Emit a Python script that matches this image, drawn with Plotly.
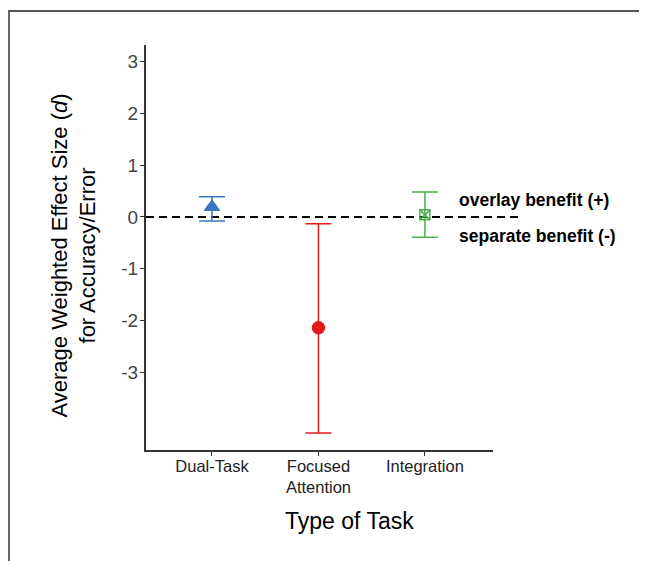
import plotly.graph_objects as go

categories = ["Dual-Task", "Focused<br>Attention", "Integration"]
effect = [0.19, -2.14, 0.04]
ci_upper = [0.39, -0.13, 0.48]
ci_lower = [-0.08, -4.17, -0.39]
colors = ["#3b78c0", "#e31a1c", "#4daf4a"]
symbols = ["triangle-up", "circle", "square-x-open"]
sizes = [13, 12, 10]
y_ticks = [-3, -2, -1, 0, 1, 2, 3]
y_ticktext = ["-3", "-2", "-1", "0", "1", "2", "3"]

# page offset (body margin) is 8px
OFF = 8
W, H = 647 - OFF, 561 - OFF
L, T = 146 - OFF, 45 - OFF
pw, ph = 347, 405
R, B = W - L - pw, H - T - ph


def px(page_x):
    return (page_x - OFF - L) / pw


def py(page_y):
    return (T + ph - (page_y - OFF)) / ph


fig = go.Figure()
for i, cat in enumerate(categories):
    fig.add_trace(go.Scatter(
        x=[i], y=[effect[i]], mode="markers",
        marker=dict(color=colors[i], symbol=symbols[i], size=sizes[i],
                    line=dict(color=colors[i], width=1.5)),
        error_y=dict(type="data", symmetric=False,
                     array=[ci_upper[i] - effect[i]],
                     arrayminus=[effect[i] - ci_lower[i]],
                     color=colors[i], thickness=1.5, width=13),
        showlegend=False,
    ))

fig.add_shape(type="line", xref="paper", yref="y", x0=0, x1=px(523),
              y0=0, y1=0, line=dict(color="black", width=2, dash="8px,5px"), layer="below")

# outer border
fig.add_shape(type="rect", xref="paper", yref="paper",
              x0=px(9), x1=px(700), y0=py(620), y1=py(11),
              line=dict(color="#555555", width=1.8))

fig.add_annotation(xref="paper", yref="y", x=px(457), y=0.33, text="<b>overlay benefit (+)</b>",
                   showarrow=False, xanchor="left", font=dict(size=17.5, color="black"))
fig.add_annotation(xref="paper", yref="y", x=px(457), y=-0.37, text="<b>separate benefit (-)</b>",
                   showarrow=False, xanchor="left", font=dict(size=17.5, color="black"))
fig.add_annotation(xref="paper", yref="paper", x=px(349), y=py(521), yanchor="middle",
                   text="Type of Task", showarrow=False, font=dict(size=23, color="black"))
fig.add_annotation(xref="paper", yref="paper", x=px(73.5), y=py(256), xanchor="center",
                   yanchor="middle", textangle=-90,
                   text="Average Weighted Effect Size (<i>d</i>)<br>for Accuracy/Error",
                   showarrow=False, font=dict(size=22, color="black"))

fig.update_layout(
    width=W, height=H,
    margin=dict(l=L, r=R, t=T, b=B, autoexpand=False),
    paper_bgcolor="white", plot_bgcolor="white",
    font=dict(family="Liberation Sans, Arial, sans-serif", color="#333333"),
    xaxis=dict(tickmode="array", tickvals=[0, 1, 2], ticktext=categories,
               range=[-0.62, 2.64], showgrid=False, zeroline=False,
               showline=True, linecolor="#333333", linewidth=2,
               ticks="outside", ticklen=4, tickcolor="#333333",
               ticklabelstandoff=-4,
               tickfont=dict(size=16.5, color="#222222"), automargin=False),
    yaxis=dict(tickmode="array", tickvals=y_ticks, ticktext=y_ticktext, range=[-4.5, 3.32],
               showgrid=False, zeroline=False,
               showline=True, linecolor="#333333", linewidth=2,
               ticks="outside", ticklen=4, tickcolor="#333333",
               ticklabelstandoff=-2,
               tickfont=dict(size=19, color="#444444"), automargin=False),
)

fig.write_html("out.html")
